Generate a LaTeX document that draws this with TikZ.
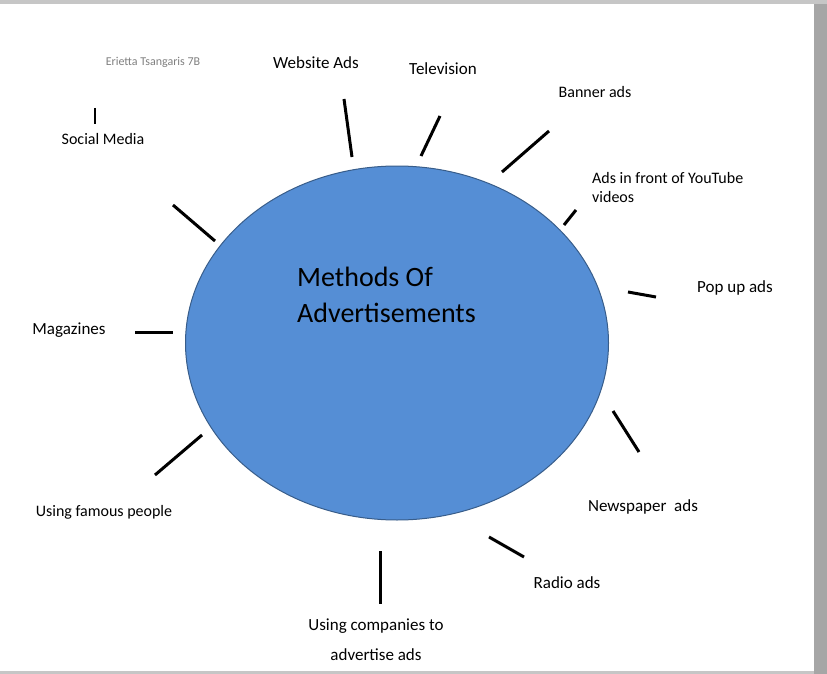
\documentclass[tikz,border=0pt]{standalone}
\usepackage{fontspec}
\usetikzlibrary{shapes.geometric}
\setmainfont{Carlito}
\definecolor{ellfill}{RGB}{85,142,213}
\definecolor{ellline}{RGB}{56,93,138}
\begin{document}
\begin{tikzpicture}[x=1pt,y=-1pt,
  tick/.style={line width=3pt,black},
  lbl/.style={font=\fontsize{17}{20}\selectfont,anchor=center,inner sep=0pt},
  slbl/.style={font=\fontsize{16}{19}\selectfont,anchor=center,inner sep=0pt,align=left}]
\useasboundingbox (0,0) rectangle (827,674);
\fill[gray!45] (0,0) rectangle (827,674);
\fill[gray!70] (814,4) rectangle (827,674);
\fill[white] (0,4) rectangle (814,671);
\node[draw=ellline,line width=1pt,fill=ellfill,ellipse,minimum width=423,minimum height=354,inner sep=0] (c) at (397,343) {};
\node[font=\fontsize{28}{36}\selectfont,align=left,anchor=north west,inner sep=0] (t) at (297,267) {Methods Of\\Advertisements};
\node[font=\fontsize{12}{14}\selectfont,text=gray] (n) at (153,62) {Erietta Tsangaris 7B};
\node[lbl] (w) at (316,63) {Website Ads};
\node[lbl] (tv) at (443,69) {Television};
\node[slbl] (b) at (595,92) {Banner ads};
\node[slbl,anchor=north west] (y) at (592,172) {Ads in front of YouTube\\videos};
\node[lbl] (p) at (735,288) {Pop up ads};
\node[lbl] (np) at (643,507) {Newspaper\ \ ads};
\node[lbl] (r) at (567,583) {Radio ads};
\node[lbl,align=center,font=\fontsize{17}{30}\selectfont] (co) at (376,640) {Using companies to\\advertise ads};
\node[slbl] (f) at (104,512) {Using famous people};
\node[lbl] (m) at (69,330) {Magazines};
\node[slbl] (s) at (103,139) {Social Media};
\coordinate (a1) at (344,99); \coordinate (a2) at (352,157);
\draw[tick] (a1)--(a2);
\coordinate (b1) at (440,116); \coordinate (b2) at (421,156);
\draw[tick] (b1)--(b2);
\coordinate (c1) at (549,131); \coordinate (c2) at (502,172);
\draw[tick] (c1)--(c2);
\coordinate (d1) at (576,210); \coordinate (d2) at (564,225);
\draw[tick] (d1)--(d2);
\coordinate (e1) at (628,292); \coordinate (e2) at (656,297);
\draw[tick] (e1)--(e2);
\coordinate (f1) at (613,411); \coordinate (f2) at (639,452);
\draw[tick] (f1)--(f2);
\coordinate (g1) at (489,537); \coordinate (g2) at (524,557);
\draw[tick] (g1)--(g2);
\coordinate (h1) at (380,551); \coordinate (h2) at (380,604);
\draw[tick] (h1)--(h2);
\coordinate (i1) at (202,435); \coordinate (i2) at (155,475);
\draw[tick] (i1)--(i2);
\coordinate (j1) at (135,332); \coordinate (j2) at (173,332);
\draw[tick] (j1)--(j2);
\coordinate (k1) at (173,205); \coordinate (k2) at (215,241);
\draw[tick] (k1)--(k2);
\coordinate (l1) at (95,108); \coordinate (l2) at (95,124);
\draw[line width=1.5pt] (l1)--(l2);
\end{tikzpicture}
\end{document}
